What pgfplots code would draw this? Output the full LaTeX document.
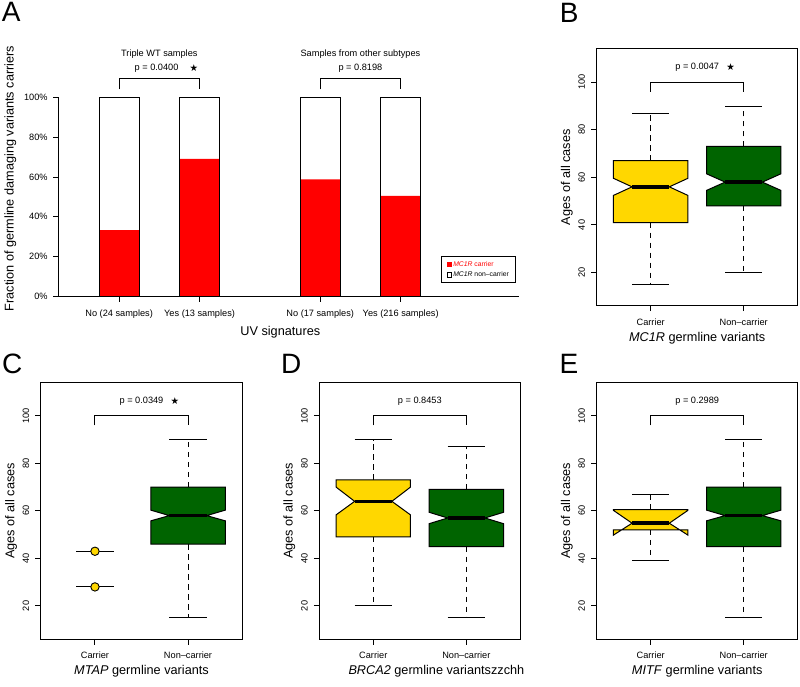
\documentclass[border=0pt]{standalone}
\usepackage{pgfplots}
\pgfplotsset{compat=1.18}
\usepackage{fontspec}
\setmainfont{Liberation Sans}
\newfontfamily\symfont{DejaVu Sans}
\definecolor{rgold}{HTML}{FFD700}
\definecolor{rgreen}{HTML}{006400}
\definecolor{rred}{HTML}{FF0000}
\newcommand\tsz{\fontsize{9.2}{11}\selectfont}
\newcommand\lsz{\fontsize{12.7}{15}\selectfont}
\newcommand\bsz{\fontsize{28}{30}\selectfont}
\newcommand\stsz{\fontsize{9.5}{10}\selectfont}
\pgfplotsset{
  bx/.style={
    scale only axis, width=201pt, height=256.7pt,
    xmin=0.42, xmax=2.58, ymin=6, ymax=114,
    clip=false,
    axis line style={line width=1pt},
    xtick={1,2}, xticklabels={Carrier,Non--carrier},
    ytick={20,40,60,80,100}, yticklabels={20,40,60,80,100},
    tick align=outside, xtick pos=bottom, ytick pos=left,
    major tick length=5.5pt,
    tick style={black, line width=1pt},
    every tick label/.append style={font=\tsz, inner sep=0pt},
    xticklabel style={anchor=base, yshift=-14.1pt},
    yticklabel style={xshift=-6.3pt, rotate=90, anchor=base},
    ylabel={Ages of all cases},
    every axis y label/.style={font=\lsz, at={(axis description cs:-0.149,0.5)}, anchor=center, rotate=90, inner sep=0pt},
    every axis x label/.style={font=\lsz, at={(axis description cs:0.5,-0.1266)}, anchor=center, inner sep=0pt},
  },
  wh/.style={black, line width=1pt, dash pattern=on 5.5pt off 4.5pt},
  stp/.style={black, line width=1pt},
  mdn/.style={black, line width=3.6pt},
  bxp/.style={draw=black, line width=1pt, fill=#1},
  brk/.style={black, line width=1pt},
}
\begin{document}
\begin{tikzpicture}
\path[use as bounding box] (0pt,0pt) rectangle (800pt,686pt);

% ---------------- Panel A ----------------
\begin{axis}[
  at={(58.8pt,389.8pt)}, anchor=south west,
  scale only axis, width=460.5pt, height=198.5pt,
  xmin=-0.5, xmax=10.95, ymin=0, ymax=1,
  axis x line=bottom, axis y line=left,
  axis line style={-, line width=1pt},
  clip=false,
  xtick={1,3,6,8},
  xticklabels={No (24 samples),Yes (13 samples),No (17 samples),Yes (216 samples)},
  ytick={0,0.2,0.4,0.6,0.8,1},
  yticklabels={0\%,20\%,40\%,60\%,80\%,100\%},
  tick align=outside, major tick length=5.5pt,
  tick style={black, line width=1pt},
  every tick label/.append style={font=\tsz, inner sep=0pt},
  xticklabel style={anchor=base, yshift=-14.7pt},
  yticklabel style={anchor=east, xshift=-5.5pt},
  xlabel={UV signatures}, ylabel={Fraction of germline damaging variants carriers},
  every axis x label/.style={font=\lsz, at={(axis description cs:0.481,-0.180)}, anchor=center},
  every axis y label/.style={font=\lsz, at={(axis description cs:-0.1053,0.593)}, anchor=center, rotate=90},
  legend style={at={(axis description cs:0.830,0.201)}, anchor=north west, draw=black, line width=1pt,
    font=\fontsize{6.8}{8}\selectfont, inner xsep=5pt, inner ysep=3pt, row sep=1.6pt,
    nodes={inner sep=1.3pt}},
  legend cell align=left,
  legend image code/.code={\draw[#1] (0pt,-2.3pt) rectangle (4.6pt,2.3pt);},
]
\addplot[ybar, bar width=1, bar shift=0pt, fill=rred, draw=none, forget plot]
  coordinates {(1,0.333)(3,0.692)(6,0.588)(8,0.505)};
\addplot[ybar, bar width=1, bar shift=0pt, fill=none, draw=black, line width=1pt, forget plot]
  coordinates {(1,1)(3,1)(6,1)(8,1)};
\addplot[brk, forget plot] coordinates {(1,1.042)(1,1.098)(3,1.098)(3,1.042)};
\addplot[brk, forget plot] coordinates {(6,1.042)(6,1.098)(8,1.098)(8,1.042)};
\node[font=\tsz] at (axis cs:2,1.219) {Triple WT samples};
\node[font=\tsz] at (axis cs:1.93,1.150) {p = 0.0400};
\node[font=\stsz\symfont] at (axis cs:2.86,1.150) {★};
\node[font=\tsz] at (axis cs:7,1.219) {Samples from other subtypes};
\node[font=\tsz] at (axis cs:7,1.150) {p = 0.8198};
\addlegendimage{fill=rred, draw=rred, line width=0.4pt}
\addlegendentry{\textcolor{rred}{\textit{MC1R} carrier}}
\addlegendimage{fill=white, draw=black, line width=0.9pt}
\addlegendentry{\textit{MC1R} non--carrier}
\end{axis}

% ---------------- Panel B ----------------
\begin{axis}[bx, at={(596.7pt,380.3pt)}, anchor=south west, xlabel={\textit{MC1R} germline variants}]
\addplot[wh] coordinates {(1,41)(1,15)};
\addplot[wh] coordinates {(1,67)(1,87)};
\addplot[stp] coordinates {(0.8,15)(1.2,15)};
\addplot[stp] coordinates {(0.8,87)(1.2,87)};
\addplot[bxp=rgold] coordinates {(0.6,41)(1.4,41)(1.4,52.4)(1.2,56)(1.4,59.6)(1.4,67)(0.6,67)(0.6,59.6)(0.8,56)(0.6,52.4)} --cycle;
\addplot[mdn] coordinates {(0.8,56)(1.2,56)};
\addplot[wh] coordinates {(2,48)(2,20)};
\addplot[wh] coordinates {(2,73)(2,90)};
\addplot[stp] coordinates {(1.8,20)(2.2,20)};
\addplot[stp] coordinates {(1.8,90)(2.2,90)};
\addplot[bxp=rgreen] coordinates {(1.6,48)(2.4,48)(2.4,54.5)(2.2,58)(2.4,61.5)(2.4,73)(1.6,73)(1.6,61.5)(1.8,58)(1.6,54.5)} --cycle;
\addplot[mdn] coordinates {(1.8,58)(2.2,58)};
\addplot[brk] coordinates {(1,96)(1,100)(2,100)(2,96)};
\node[font=\tsz] (pB) at (axis cs:1.5,106.3) {p = 0.0047};
\node[font=\stsz\symfont, anchor=west, inner sep=0pt] at ([xshift=3.5pt]pB.east) {★};
\end{axis}

% ---------------- Panel C ----------------
\begin{axis}[bx, at={(41pt,46.8pt)}, anchor=south west, xlabel={\textit{MTAP} germline variants}]
\addplot[stp] coordinates {(0.8,43)(1.2,43)};
\addplot[stp] coordinates {(0.8,28)(1.2,28)};
\addplot[only marks, mark=*, mark size=4.2pt, mark options={fill=rgold, draw=black, line width=0.9pt}]
  coordinates {(1,43)(1,28)};
\addplot[wh] coordinates {(2,46)(2,15)};
\addplot[wh] coordinates {(2,70)(2,90)};
\addplot[stp] coordinates {(1.8,15)(2.2,15)};
\addplot[stp] coordinates {(1.8,90)(2.2,90)};
\addplot[bxp=rgreen] coordinates {(1.6,46)(2.4,46)(2.4,55.8)(2.2,58)(2.4,60.3)(2.4,70)(1.6,70)(1.6,60.3)(1.8,58)(1.6,55.8)} --cycle;
\addplot[mdn] coordinates {(1.8,58)(2.2,58)};
\addplot[brk] coordinates {(1,96)(1,100)(2,100)(2,96)};
\node[font=\tsz] (pC) at (axis cs:1.5,106.3) {p = 0.0349};
\node[font=\stsz\symfont, anchor=west, inner sep=0pt] at ([xshift=3.5pt]pC.east) {★};
\end{axis}

% ---------------- Panel D ----------------
\begin{axis}[bx, at={(319.3pt,46.8pt)}, anchor=south west, xlabel={\textit{BRCA2} germline variants\rlap{zzchh}}]
\addplot[wh] coordinates {(1,49)(1,20)};
\addplot[wh] coordinates {(1,73)(1,90)};
\addplot[stp] coordinates {(0.8,20)(1.2,20)};
\addplot[stp] coordinates {(0.8,90)(1.2,90)};
\addplot[bxp=rgold] coordinates {(0.6,49)(1.4,49)(1.4,58.3)(1.2,64)(1.4,70)(1.4,73)(0.6,73)(0.6,70)(0.8,64)(0.6,58.3)} --cycle;
\addplot[mdn] coordinates {(0.8,64)(1.2,64)};
\addplot[wh] coordinates {(2,45)(2,15)};
\addplot[wh] coordinates {(2,69)(2,87)};
\addplot[stp] coordinates {(1.8,15)(2.2,15)};
\addplot[stp] coordinates {(1.8,87)(2.2,87)};
\addplot[bxp=rgreen] coordinates {(1.6,45)(2.4,45)(2.4,54.6)(2.2,57)(2.4,59.4)(2.4,69)(1.6,69)(1.6,59.4)(1.8,57)(1.6,54.6)} --cycle;
\addplot[mdn] coordinates {(1.8,57)(2.2,57)};
\addplot[brk] coordinates {(1,96)(1,100)(2,100)(2,96)};
\node[font=\tsz] at (axis cs:1.5,106.3) {p = 0.8453};
\end{axis}

% ---------------- Panel E ----------------
\begin{axis}[bx, at={(596.7pt,46.8pt)}, anchor=south west, xlabel={\textit{MITF} germline variants}]
\addplot[wh] coordinates {(1,52)(1,39)};
\addplot[wh] coordinates {(1,60.5)(1,67)};
\addplot[stp] coordinates {(0.8,39)(1.2,39)};
\addplot[stp] coordinates {(0.8,67)(1.2,67)};
\addplot[bxp=rgold] coordinates {(0.6,52)(1.4,52)(1.4,49.8)(1.2,54.8)(1.4,60.2)(1.4,60.5)(0.6,60.5)(0.6,60.2)(0.8,54.8)(0.6,49.8)} --cycle;
\addplot[mdn] coordinates {(0.8,54.8)(1.2,54.8)};
\addplot[wh] coordinates {(2,45)(2,15)};
\addplot[wh] coordinates {(2,70)(2,90)};
\addplot[stp] coordinates {(1.8,15)(2.2,15)};
\addplot[stp] coordinates {(1.8,90)(2.2,90)};
\addplot[bxp=rgreen] coordinates {(1.6,45)(2.4,45)(2.4,55.8)(2.2,58)(2.4,60.3)(2.4,70)(1.6,70)(1.6,60.3)(1.8,58)(1.6,55.8)} --cycle;
\addplot[mdn] coordinates {(1.8,58)(2.2,58)};
\addplot[brk] coordinates {(1,96)(1,100)(2,100)(2,96)};
\node[font=\tsz] at (axis cs:1.5,106.3) {p = 0.2989};
\end{axis}

% panel letters
\node[font=\bsz, anchor=base west, inner sep=0pt] at (1.7pt,664.3pt) {A};
\node[font=\bsz, anchor=base west, inner sep=0pt] at (559.7pt,663pt) {B};
\node[font=\bsz, anchor=base west, inner sep=0pt] at (2pt,312.5pt) {C};
\node[font=\bsz, anchor=base west, inner sep=0pt] at (281pt,312.5pt) {D};
\node[font=\bsz, anchor=base west, inner sep=0pt] at (559.5pt,312pt) {E};
\end{tikzpicture}
\end{document}
